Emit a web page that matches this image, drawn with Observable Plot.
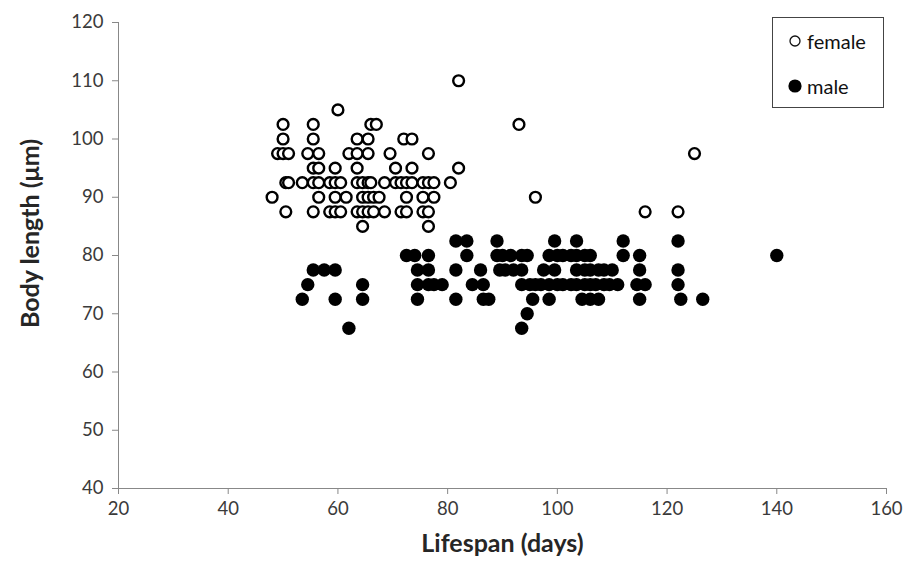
<!DOCTYPE html>
<html><head><meta charset="utf-8">
<script src="https://cdn.jsdelivr.net/npm/d3@7"></script>
<script src="https://cdn.jsdelivr.net/npm/@observablehq/plot@0.6"></script>
<style>
body{margin:0;background:#fff;}
#wrap{position:relative;width:915px;height:565px;font-family:Lato,"Open Sans",sans-serif;}
#legend{position:absolute;left:772px;top:17px;width:112px;height:91px;border:1px solid #444;box-sizing:border-box;background:#fff;font-size:20px;color:#111;}
#legend .row{position:absolute;left:14px;display:flex;align-items:center;gap:4px;height:24px;}
#legend svg{display:block}
</style></head>
<body><div id="wrap"><div id="chart"></div>
<div id="legend">
 <div class="row" style="top:11px"><svg width="16" height="16"><circle cx="8" cy="8" r="5" fill="#fff" stroke="#111" stroke-width="1.3"/></svg><span>female</span></div>
 <div class="row" style="top:56px"><svg width="16" height="16"><circle cx="8" cy="8" r="6.6" fill="#000"/></svg><span>male</span></div>
</div></div>
<script>
// Tick values
const xTicks = [20, 40, 60, 80, 100, 120, 140, 160];
const yTicks = [40, 50, 60, 70, 80, 90, 100, 110, 120];

// Female: body length rows and lifespan (days) of the points in each row
const femaleLengths = [110, 105, 102.5, 100, 97.5, 95, 92.5, 90, 87.5, 85];
const femaleDays = [
  [82],
  [60],
  [50, 55.5, 66, 67, 93],
  [50, 55.5, 63.5, 65.5, 72, 73.5],
  [49, 50, 51, 54.5, 56.5, 62, 63.5, 65.5, 69.5, 76.5, 125],
  [55.5, 56.5, 59.5, 63.5, 70.5, 73.5, 82],
  [50.5, 51, 53.5, 55.5, 56.5, 58.5, 59.5, 60.5, 63.5, 64.5, 65.5, 66, 68.5, 70.5, 71.5, 72.5, 73.5, 75.5, 76.5, 77.5, 80.5],
  [48, 56.5, 59.5, 61.5, 64.5, 65.5, 66.5, 67.5, 72.5, 75.5, 77.5, 96],
  [50.5, 55.5, 58.5, 59.5, 60.5, 63.5, 64.5, 65.5, 66.5, 68.5, 71.5, 72.5, 75.5, 76.5, 116, 122],
  [64.5, 76.5]
];

// Male: body length rows and lifespan (days) of the points in each row
const maleLengths = [82.5, 80, 77.5, 75, 72.5, 70, 67.5];
const maleDays = [
  [81.5, 83.5, 89, 99.5, 103.5, 112, 122],
  [72.5, 74, 76.5, 83.5, 89, 90, 91.5, 93.5, 94.5, 98.5, 100, 101, 102.5, 103.5, 105, 106, 112, 115, 140],
  [55.5, 57.5, 59.5, 74.5, 76.5, 81.5, 86, 89.5, 90.5, 92, 93.5, 97.5, 99.5, 103.5, 105, 106, 107.5, 108.5, 110, 115, 122],
  [54.5, 64.5, 74.5, 76.5, 77.5, 79, 84.5, 86.5, 93.5, 95, 96, 97, 98.5, 100, 101, 102.5, 103.5, 105, 106, 107, 108.5, 109.5, 111, 114.5, 116, 122],
  [53.5, 59.5, 64.5, 74.5, 81.5, 86.5, 87.5, 95.5, 98.5, 104.5, 106, 107.5, 115, 122.5, 126.5],
  [94.5],
  [62, 93.5]
];

const xLabel = "Lifespan (days)";
const yLabel = "Body length (μm)";

const female = femaleLengths.flatMap((L, i) => femaleDays[i].map(d => ({days: d, length: L})));
const male = maleLengths.flatMap((L, i) => maleDays[i].map(d => ({days: d, length: L})));

const chart = Plot.plot({
  width: 915, height: 565,
  marginLeft: 118, marginRight: 29, marginTop: 22, marginBottom: 77,
  style: {fontFamily: "Lato, 'Open Sans', sans-serif", fontSize: "18.5px", color: "#3a3a3a", background: "#fff", overflow: "visible"},
  x: {domain: [20, 160]},
  y: {domain: [40, 120]},
  marks: [
    Plot.axisX({ticks: xTicks, tickSize: 6, tickPadding: 7, stroke: "#888", label: null, fill: "#3a3a3a"}),
    Plot.axisY({ticks: yTicks, tickSize: 6, tickPadding: 9, stroke: "#888", label: null, fill: "#3a3a3a"}),
    Plot.ruleX([20], {stroke: "#888"}),
    Plot.ruleY([40], {stroke: "#888"}),
    Plot.dot(male, {x: "days", y: "length", r: 6.7, fill: "#000"}),
    Plot.dot(female, {x: "days", y: "length", r: 5.4, fill: "#fff", stroke: "#000", strokeWidth: 2.4}),
    Plot.text([xLabel], {frameAnchor: "bottom", dy: 63, fontWeight: "bold", fontSize: 25, fill: "#262626"}),
    Plot.text([yLabel], {frameAnchor: "left", textAnchor: "middle", dx: -88, dy: -22, rotate: -90, fontWeight: "bold", fontSize: 25, fill: "#262626"})
  ]
});
document.getElementById("chart").appendChild(chart);
</script>
</body></html>
